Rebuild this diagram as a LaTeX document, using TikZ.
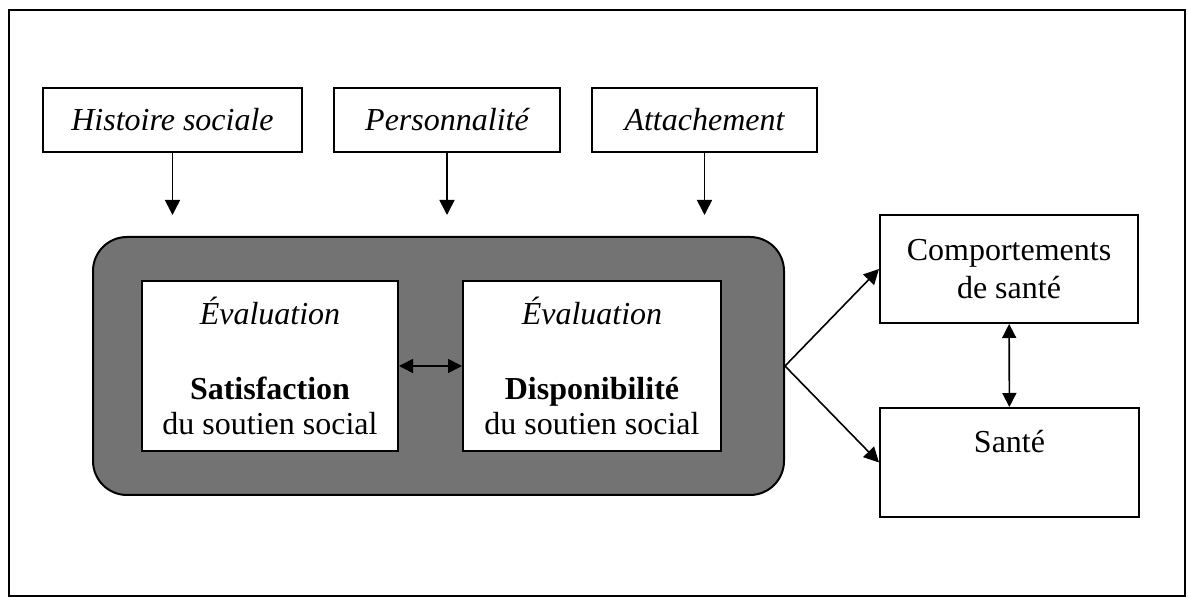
\documentclass[tikz,border=0pt]{standalone}
\usepackage{fontspec}
\setmainfont{Liberation Serif}
\usetikzlibrary{arrows.meta, positioning, calc, shapes}

\begin{document}
\begin{tikzpicture}[x=0.5pt,y=-0.5pt,
  boite/.style={draw,fill=white,line width=1pt,inner sep=2pt,align=center,font=\fontsize{16}{17.5}\selectfont},
  fleche/.style={line width=0.8pt,-{Triangle[length=7.5pt,width=7.5pt]}},
  fleches/.style={line width=0.8pt,{Triangle[length=7pt,width=7pt]}-{Triangle[length=7pt,width=7pt]}}]
\useasboundingbox (0,0) rectangle (1189,598);
% Cadre exterieur
\draw[line width=1.3pt] (9,10) rectangle (1185,596);
% Facteurs en amont
\node[boite,minimum width=129.5pt,minimum height=32pt] (hist) at (172.5,120) {\itshape Histoire sociale};
\node[boite,minimum width=113pt,minimum height=32pt] (perso) at (447,120) {\itshape Personnalit\'e};
\node[boite,minimum width=112.5pt,minimum height=32pt] (attach) at (704.5,120) {\itshape Attachement};
\coordinate (hist_f) at (172.5,215);
\coordinate (perso_f) at (447,215);
\coordinate (attach_f) at (704.5,215);
\draw[fleche] (hist) -- (hist_f);
\draw[fleche] (perso) -- (perso_f);
\draw[fleche] (attach) -- (attach_f);
% Evaluation du soutien social
\node[draw,fill=black!55,line width=1pt,rounded corners=17pt,minimum width=345.5pt,minimum height=129pt] (cadre) at (438.5,366) {};
\node[boite,minimum width=128pt,minimum height=85pt] (satis) at (270,366) {\textit{\'Evaluation}\\[20pt]\textbf{Satisfaction}\\du soutien social};
\node[boite,minimum width=129pt,minimum height=85pt] (dispo) at (592,366) {\textit{\'Evaluation}\\[20pt]\textbf{Disponibilit\'e}\\du soutien social};
\draw[fleches] (satis) -- (dispo);
% Issues
\node[boite,minimum width=129pt,minimum height=54pt] (comport) at (1009,269) {Comportements\\[1.5pt]de sant\'e};
\node[boite,minimum width=129.5pt,minimum height=54.5pt,text height=12pt,text depth=22pt] (sante) at (1009.5,462.5) {Sant\'e};
\draw[fleche] (cadre.east) -- (comport.west);
\draw[fleche] (cadre.east) -- (sante.west);
\draw[fleches] (comport) -- (sante);
\end{tikzpicture}
\end{document}
